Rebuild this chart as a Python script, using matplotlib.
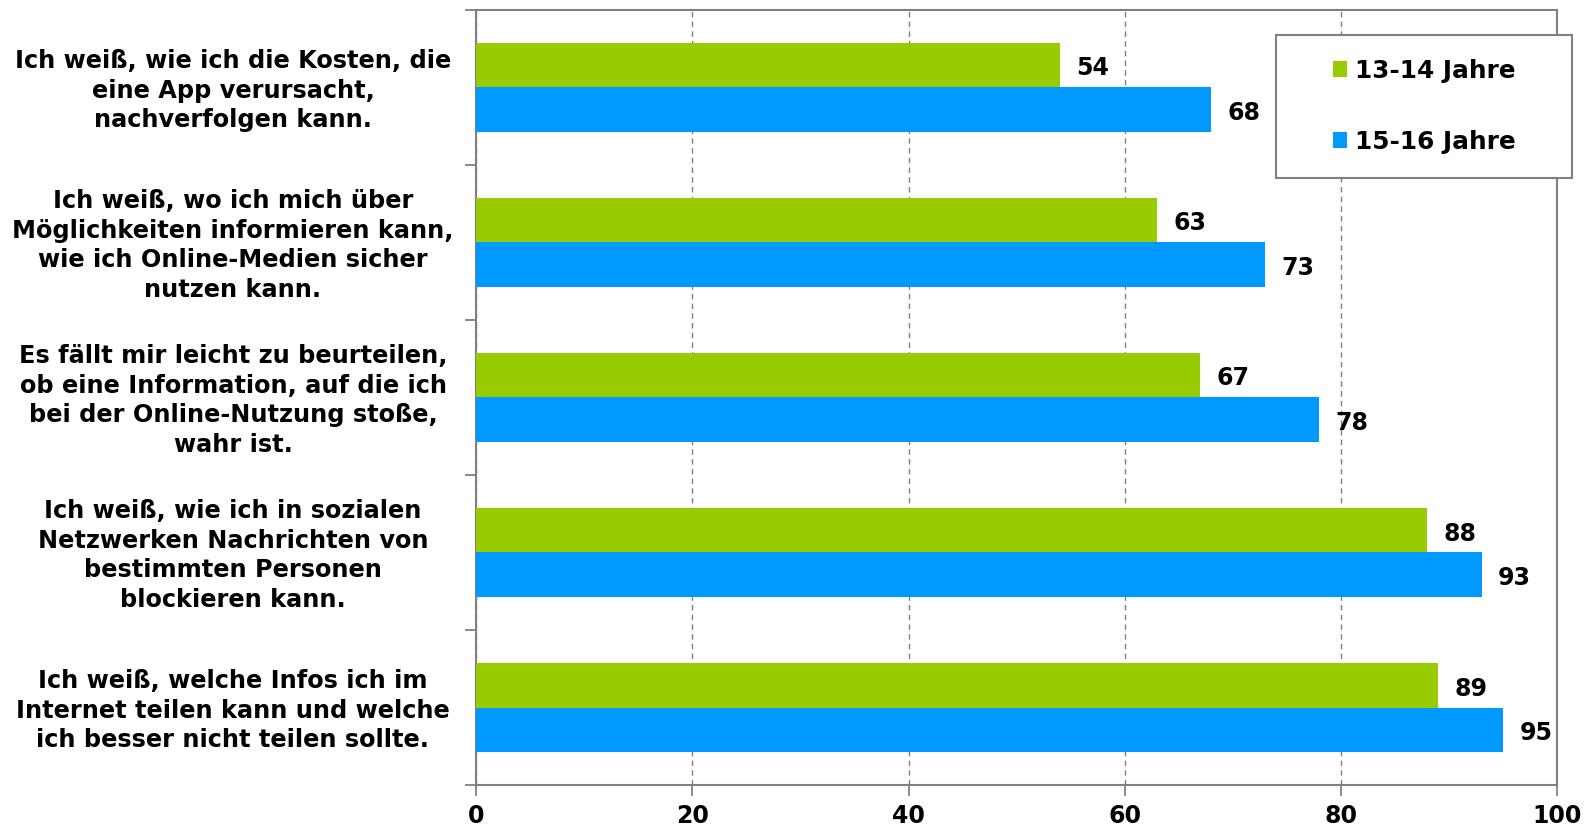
import matplotlib.pyplot as plt
import matplotlib.transforms as mtransforms
from matplotlib.patches import Rectangle
import numpy as np

# Data
categories = [
    "Ich weiß, wie ich die Kosten, die\neine App verursacht,\nnachverfolgen kann.",
    "Ich weiß, wo ich mich über\nMöglichkeiten informieren kann,\nwie ich Online-Medien sicher\nnutzen kann.",
    "Es fällt mir leicht zu beurteilen,\nob eine Information, auf die ich\nbei der Online-Nutzung stoße,\nwahr ist.",
    "Ich weiß, wie ich in sozialen\nNetzwerken Nachrichten von\nbestimmten Personen\nblockieren kann.",
    "Ich weiß, welche Infos ich im\nInternet teilen kann und welche\nich besser nicht teilen sollte.",
]
series_names = ["13-14 Jahre", "15-16 Jahre"]
values_13_14 = [54, 63, 67, 88, 89]
values_15_16 = [68, 73, 78, 93, 95]
colors = ["#99CC00", "#0099FF"]

plt.rcParams["font.family"] = "DejaVu Sans"
plt.rcParams["font.weight"] = "bold"

fig = plt.figure(figsize=(15.89, 8.30), dpi=100)
ax = fig.add_axes([0.2996, 0.0542, 0.6804, 0.9338])

y = np.arange(len(categories))
h = 0.285
bars1 = ax.barh(y - h / 2, values_13_14, height=h, color=colors[0], label=series_names[0], zorder=3)
bars2 = ax.barh(y + h / 2, values_15_16, height=h, color=colors[1], label=series_names[1], zorder=3)

for bars in (bars1, bars2):
    for b in bars:
        ax.text(b.get_width() + 1.5, b.get_y() + b.get_height() / 2 + 0.02, f"{b.get_width():.0f}",
                va="center", ha="left", fontsize=17, fontweight="bold")

ax.set_xlim(0, 100)
ax.set_ylim(len(categories) - 0.5, -0.5)
ax.set_xticks(range(0, 101, 20))
ax.set_yticks(np.arange(-0.5, len(categories), 1))
ax.set_yticklabels([])

# category labels, centred left of the axis
trans = mtransforms.blended_transform_factory(fig.transFigure, ax.transData)
for yi, cat in zip(y, categories):
    ax.text(233 / 1589, yi + 0.02, cat, transform=trans, ha="center", va="center",
            fontsize=17.3, fontweight="bold", linespacing=1.3, multialignment="center")

ax.tick_params(axis="y", length=8, color="#808080", width=1.3, direction="out")
ax.tick_params(axis="x", length=8, color="#808080", width=1.3, labelsize=17, pad=6)
for lbl in ax.get_xticklabels():
    lbl.set_fontweight("bold")

ax.grid(axis="x", color="#808080", linestyle=(0, (4, 3)), linewidth=1, zorder=0)
for s in ax.spines.values():
    s.set_color("#808080")
    s.set_linewidth(1.5)

# legend box drawn separately, entries centred inside it
bx, by, bw, bh = 1276 / 1589, 1 - 178 / 830, 296 / 1589, 143 / 830
ax.add_patch(Rectangle((bx, by), bw, bh, transform=fig.transFigure, facecolor="white",
                       edgecolor="#808080", linewidth=1.5, zorder=5, clip_on=False))
leg = ax.legend(loc="center", bbox_to_anchor=(bx + bw / 2, by + bh / 2),
                bbox_transform=fig.transFigure, frameon=False,
                prop={"size": 17.8, "weight": "bold"}, handlelength=0.6,
                handleheight=0.6, handletextpad=0.3, labelspacing=1.9, borderpad=0)
leg.set_zorder(6)

plt.savefig("out.png")
